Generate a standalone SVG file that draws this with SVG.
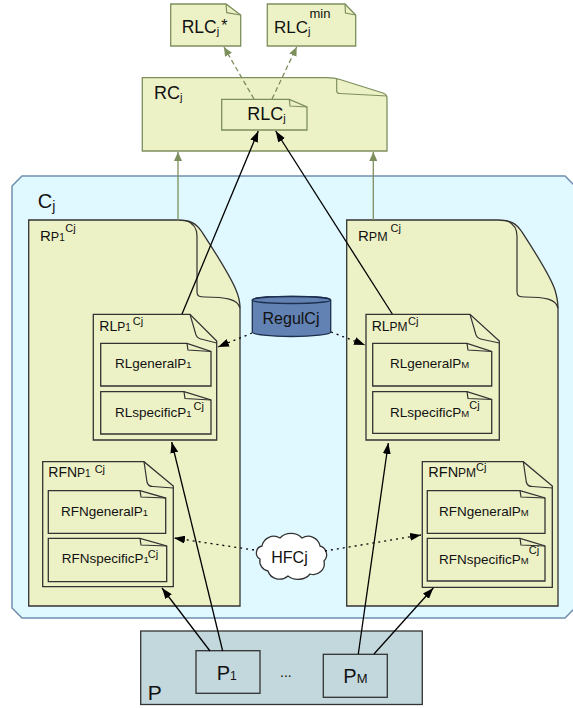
<svg xmlns="http://www.w3.org/2000/svg" width="573" height="708" viewBox="0 0 573 708">
<style>
.t{font-family:"Liberation Sans",Arial,Helvetica,sans-serif;fill:#111}
.note{fill:#edf2c6;stroke:#333;stroke-width:1.3}
.onote{fill:#edf2c6;stroke:#7d8f5d;stroke-width:1.3}
.fold{fill:none;stroke:#333;stroke-width:1.2}
.ofold{fill:none;stroke:#7d8f5d;stroke-width:1.2}
.conn{fill:none;stroke:#000;stroke-width:1.3}
.dot{stroke-dasharray:2,4}
.olive{fill:none;stroke:#7d8f5d;stroke-width:1.3}
.dash{stroke-dasharray:5,3}
.in{font-size:13.5px}
</style>
<defs>
<marker id="ah" markerWidth="11" markerHeight="8" refX="11" refY="4" orient="auto" markerUnits="userSpaceOnUse"><path d="M0,0 L11,4 L0,8 Z" fill="#000"/></marker>
<marker id="oh" markerWidth="9" markerHeight="8" refX="9" refY="4" orient="auto" markerUnits="userSpaceOnUse"><path d="M0,0 L9,4 L0,8 Z" fill="#7d8f5d"/></marker>
</defs>

<g id="Cj">
<path d="M22,176 H565 L575,186 V608 L565,618 H22 L12,608 V186 Z" fill="#e0f8ff" stroke="#6f8eae" stroke-width="1.5"/>
<text class="t" x="37.7" y="207.7" font-size="20">C<tspan font-size="14" dy="3">j</tspan></text>
</g>

<g id="RLCj-star">
<path class="onote" d="M170.7,4 H226 L240.7,15 V46 H170.7 Z"/>
<path class="ofold" d="M226,4 L226.7,12.7 L240.7,15"/>
<text class="t" x="181.7" y="33.3" font-size="17.5">RLC<tspan font-size="11" dy="2">j</tspan><tspan font-size="16" dy="-4" dx="2">*</tspan></text>
</g>

<g id="RLCj-min">
<path class="onote" d="M267.3,4 H345 L355.7,15 V46 H267.3 Z"/>
<path class="ofold" d="M345,4 L345.5,13 L355.7,15"/>
<text class="t" x="274" y="33.3" font-size="17">RLC<tspan font-size="11" dy="2">j</tspan><tspan font-size="13" dy="-17" dx="-1">min</tspan></text>
</g>

<g id="RCj">
<path class="onote" d="M142.3,77.7 H326.7 C332,77.7 337,78.5 340,79.5 L383,93 C386,94 387,96 387,98 V151 H142.3 Z"/>
<path class="ofold" d="M336.7,78.5 V91 C336.7,93 338,93.5 340,93.5 L387,96"/>
<text class="t" x="154" y="99" font-size="18">RC<tspan font-size="11" dy="2">j</tspan></text>
<g id="RLCj">
<path class="onote" d="M221.7,99.3 H289.3 L307,107 V130 H221.7 Z"/>
<path class="ofold" d="M289.3,99.3 L290,106 L307,107"/>
<text class="t" x="247.3" y="120" font-size="18">RLC<tspan font-size="11" dy="2">j</tspan></text>
</g>
</g>

<g id="RP1">
<path class="note" d="M28.7,220 H178 C190,220 196,223 202,232 C215,252 230,275 236,290 C239,297 240,302 240,308 V606 H28.7 Z"/>
<path class="fold" d="M186,220.5 C193,223 197,228 197,236 V292 C197,296 199,297 205,297 C225,297 238,299 240,308"/>
<text class="t" x="40" y="240.7" font-size="15">R<tspan font-size="12.5">P</tspan><tspan font-size="10">1</tspan><tspan font-size="11" dy="-9" dx="0.5">Cj</tspan></text>
</g>

<g id="RPM">
<path class="note" d="M346.7,220 H498 C510,220 516,223 522,232 C535,252 550,275 555,290 C557,297 558,302 558,308 V606 H346.7 Z"/>
<path class="fold" d="M506,220.5 C513,223 517,228 517,236 V292 C517,296 519,297 525,297 C545,297 556,299 558,308"/>
<text class="t" x="358" y="240.7" font-size="15">R<tspan font-size="12.5">PM</tspan><tspan font-size="11" dy="-9" dx="3">Cj</tspan></text>
</g>

<g id="RLP1">
<path class="note" d="M93.3,314.3 H190 L216.7,341 V440 H93.3 Z"/>
<path class="fold" d="M190,314.3 L196,335 Q198,339 203,339.5 L216.7,343"/>
<text class="t" x="99.3" y="330.7" font-size="14">RL<tspan font-size="12">P</tspan><tspan font-size="10">1</tspan><tspan font-size="11" dy="-6" dx="2">Cj</tspan></text>
<g id="RLgeneralP1">
<path class="note" d="M100.7,343.3 H187 L211,351.5 V386 H100.7 Z"/>
<path class="fold" d="M187,343.3 L188,350 L211,351.5"/>
<text class="t in" x="115" y="368.3">RLgeneralP<tspan font-size="9.5">1</tspan></text>
</g>
<g id="RLspecificP1">
<path class="note" d="M100.7,391.7 H184 L211,400 V434 H100.7 Z"/>
<path class="fold" d="M184,391.7 L185,398.5 L211,400"/>
<text class="t in" x="115" y="416.7">RLspecificP<tspan font-size="9.5">1</tspan><tspan font-size="11" dy="-7" dx="2">Cj</tspan></text>
</g>
</g>

<g id="RFNP1">
<path class="note" d="M42.7,461.7 H144 L173.3,486 V586.7 H42.7 Z"/>
<path class="fold" d="M144,461.7 L147,482 Q148,486.5 153,486.5 L173.3,488"/>
<text class="t" x="48.3" y="477.3" font-size="14">RFN<tspan font-size="12">P</tspan><tspan font-size="10">1</tspan><tspan font-size="11" dy="-4" dx="4">Cj</tspan></text>
<g id="RFNgeneralP1">
<path class="note" d="M48.3,490.7 H140 L165.7,498 V533.3 H48.3 Z"/>
<path class="fold" d="M140,490.7 L141,497 L165.7,498"/>
<text class="t in" x="61" y="515.7">RFNgeneralP<tspan font-size="9.5">1</tspan></text>
</g>
<g id="RFNspecificP1">
<path class="note" d="M48.3,538.3 H140 L166.7,546 V581.7 H48.3 Z"/>
<path class="fold" d="M140,538.3 L141,545 L166.7,546"/>
<text class="t in" x="61.7" y="563.3">RFNspecificP<tspan font-size="9.5">1</tspan><tspan font-size="11" dy="-5" dx="-1">Cj</tspan></text>
</g>
</g>

<g id="RLPM">
<path class="note" d="M366,314.3 H470 L499.3,341 V440 H366 Z"/>
<path class="fold" d="M470,314.3 L476,335 Q478,339 483,339.5 L499.3,343"/>
<text class="t" x="371.7" y="331" font-size="14">RL<tspan font-size="12">PM</tspan><tspan font-size="11" dy="-6" dx="0.5">Cj</tspan></text>
<g id="RLgeneralPM">
<path class="note" d="M372.7,343.3 H467 L491.7,351.5 V386 H372.7 Z"/>
<path class="fold" d="M467,343.3 L468,350 L491.7,351.5"/>
<text class="t in" x="390" y="368.3">RLgeneralP<tspan font-size="9.5">M</tspan></text>
</g>
<g id="RLspecificPM">
<path class="note" d="M372.7,391.7 H467 L491.7,399.5 V433.3 H372.7 Z"/>
<path class="fold" d="M467,391.7 L468,398.5 L491.7,399.5"/>
<text class="t in" x="390" y="416.7">RLspecificP<tspan font-size="9.5">M</tspan><tspan font-size="11" dy="-8" dx="0">Cj</tspan></text>
</g>
</g>

<g id="RFNPM">
<path class="note" d="M422.3,461.7 H523.3 L552.3,486 V587.3 H422.3 Z"/>
<path class="fold" d="M523.3,461.7 L526.3,482 Q527.3,486.5 532.3,486.5 L552.3,488"/>
<text class="t" x="428.3" y="477.3" font-size="14.5">RFN<tspan font-size="12">PM</tspan><tspan font-size="11" dy="-6" dx="0">Cj</tspan></text>
<g id="RFNgeneralPM">
<path class="note" d="M427.3,490.7 H520 L545,498 V533.3 H427.3 Z"/>
<path class="fold" d="M520,490.7 L521,497 L545,498"/>
<text class="t in" x="439" y="515.7">RFNgeneralP<tspan font-size="9.5">M</tspan></text>
</g>
<g id="RFNspecificPM">
<path class="note" d="M427.3,538.3 H520 L545,546 V581 H427.3 Z"/>
<path class="fold" d="M520,538.3 L521,545 L545,546"/>
<text class="t in" x="439" y="564">RFNspecificP<tspan font-size="9.5">M</tspan><tspan font-size="11" dy="-10" dx="0">Cj</tspan></text>
</g>
</g>

<g id="RegulCj">
<path d="M252.3,300 V332 A39.2,4.5 0 0 0 330.7,332 V300 A39.2,3.5 0 0 0 252.3,300 Z" fill="#6282b3" stroke="#1e2f4e" stroke-width="1.3"/>
<ellipse cx="291.5" cy="300" rx="39.2" ry="3.5" fill="#6282b3" stroke="#1e2f4e" stroke-width="1.3"/>
<text class="t" x="291" y="324" font-size="16" text-anchor="middle">RegulCj</text>
</g>

<g id="HFCj">
<path d="M262,546 a12,12 0 0 1 18,-8 a14,12 0 0 1 22,0 a12,12 0 0 1 18,8 a9,9 0 0 1 4,15 a11,11 0 0 1 -14,13 a14,11 0 0 1 -22,2 a12,11 0 0 1 -20,-5 a10,10 0 0 1 -8,-12 a7,7 0 0 1 2,-13 Z" fill="#fff" stroke="#333" stroke-width="1.3"/>
<text class="t" x="289.5" y="563" font-size="16" text-anchor="middle">HFCj</text>
</g>

<g id="P">
<rect x="140.7" y="631" width="281.6" height="73.5" fill="#c3d8dc" stroke="#333" stroke-width="1.3"/>
<text class="t" x="147.7" y="700" font-size="21">P</text>
<text class="t" x="280" y="677" font-size="14">...</text>
<g id="P1">
<rect x="196" y="650.7" width="64" height="42.6" fill="#c3d8dc" stroke="#333" stroke-width="1.3"/>
<text class="t" x="216.7" y="680" font-size="20">P<tspan font-size="12">1</tspan></text>
</g>
<g id="PM">
<rect x="323.3" y="654.3" width="64" height="43" fill="#c3d8dc" stroke="#333" stroke-width="1.3"/>
<text class="t" x="343.3" y="683.3" font-size="20">P<tspan font-size="13">M</tspan></text>
</g>
</g>

<g id="connectors">
<line class="conn" x1="182" y1="314" x2="258.3" y2="131" marker-end="url(#ah)"/>
<line class="conn" x1="392.3" y1="314" x2="275.7" y2="131" marker-end="url(#ah)"/>
<line class="olive dash" x1="254" y1="99" x2="224" y2="47" marker-end="url(#oh)"/>
<line class="olive dash" x1="272" y1="99" x2="296.7" y2="47" marker-end="url(#oh)"/>
<line class="olive" x1="178" y1="220" x2="178" y2="152" marker-end="url(#oh)"/>
<line class="olive" x1="373.3" y1="220" x2="373.3" y2="152" marker-end="url(#oh)"/>
<line class="conn dot" x1="252" y1="333" x2="218" y2="347" marker-end="url(#ah)"/>
<line class="conn dot" x1="331" y1="332" x2="365" y2="345" marker-end="url(#ah)"/>
<line class="conn dot" x1="254" y1="550" x2="174" y2="538" marker-end="url(#ah)"/>
<line class="conn dot" x1="325" y1="551" x2="421" y2="535" marker-end="url(#ah)"/>
<line class="conn" x1="210" y1="651" x2="162" y2="588" marker-end="url(#ah)"/>
<line class="conn" x1="222.7" y1="651" x2="171.7" y2="442" marker-end="url(#ah)"/>
<line class="conn" x1="358.3" y1="654" x2="388.3" y2="443" marker-end="url(#ah)"/>
<line class="conn" x1="374" y1="654" x2="433.3" y2="588" marker-end="url(#ah)"/>
</g>
</svg>
